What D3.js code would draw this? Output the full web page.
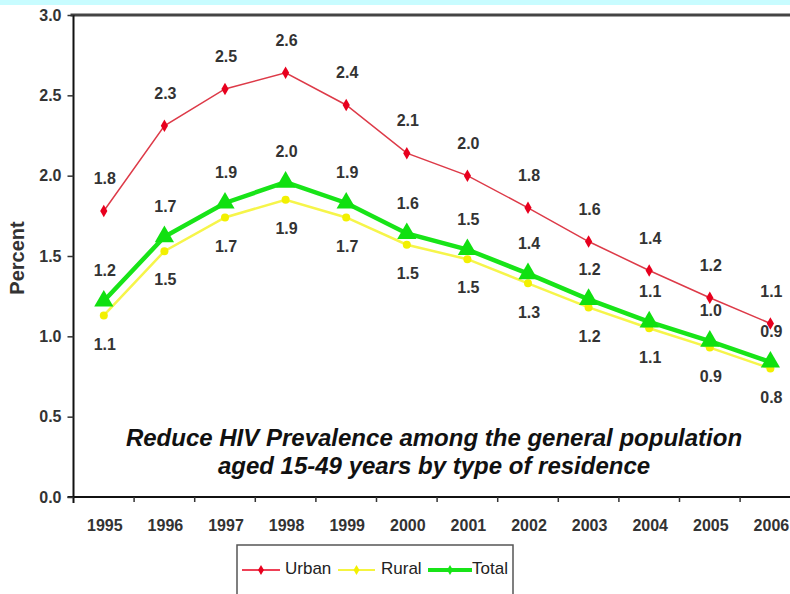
<!DOCTYPE html>
<html><head><meta charset="utf-8">
<script src="https://cdn.jsdelivr.net/npm/d3@7"></script>
<style>body{margin:0;background:#fff;} svg{display:block}</style>
</head><body>
<svg id="c" width="790" height="594"></svg>
<script>
const years = ["1995","1996","1997","1998","1999","2000","2001","2002","2003","2004","2005","2006"];
const urban = [1.78,2.31,2.54,2.64,2.44,2.14,2.0,1.8,1.59,1.41,1.24,1.08];
const rural = [1.13,1.53,1.74,1.85,1.74,1.57,1.48,1.33,1.18,1.05,0.93,0.80];
const total = [1.22,1.62,1.83,1.96,1.83,1.64,1.54,1.39,1.23,1.09,0.97,0.84];
const urbanLabels = ["1.8","2.3","2.5","2.6","2.4","2.1","2.0","1.8","1.6","1.4","1.2","1.1"];
const totalLabels = ["1.2","1.7","1.9","2.0","1.9","1.6","1.5","1.4","1.2","1.1","1.0","0.9"];
const ruralLabels = ["1.1","1.5","1.7","1.9","1.7","1.5","1.5","1.3","1.2","1.1","0.9","0.8"];
const yTicks = [0,0.5,1.0,1.5,2.0,2.5,3.0];
const seriesNames = ["Urban","Rural","Total"];
const titleLines = ["Reduce HIV Prevalence among the general population","aged 15-49 years by type of residence"];

const svg = d3.select("#c");
const W = 790, H = 594;
const pLeft = 73.5, pTop = 15, pBottom = 497;
const x = d3.scaleBand().domain(years).range([pLeft, pLeft + 12*60.6]).padding(0);
const y = d3.scaleLinear().domain([0,3]).range([pBottom, pTop]);
const cx = d => x(d) + x.bandwidth()/2;
const sans = '"Liberation Sans",Arial,sans-serif';

svg.append("rect").attr("x",0).attr("y",0).attr("width",W).attr("height",H).attr("fill","#fff");
svg.append("rect").attr("x",0).attr("y",0).attr("width",W).attr("height",5).attr("fill","#c8fcff");

// frame
svg.append("line").attr("x1",pLeft-3).attr("x2",W).attr("y1",pTop).attr("y2",pTop)
  .attr("stroke","#444").attr("stroke-width",3);
svg.append("line").attr("x1",pLeft).attr("x2",pLeft).attr("y1",pTop).attr("y2",pBottom+6)
  .attr("stroke","#111").attr("stroke-width",2);
svg.append("line").attr("x1",pLeft-6).attr("x2",W).attr("y1",pBottom).attr("y2",pBottom)
  .attr("stroke","#111").attr("stroke-width",2);

// y axis
const yAxis = d3.axisLeft(y).tickValues(yTicks).tickFormat(d3.format(".1f")).tickSize(6).tickPadding(6);
const ga = svg.append("g").attr("transform",`translate(${pLeft},0)`).call(yAxis);
ga.select(".domain").remove();
ga.selectAll(".tick line").attr("stroke","#333").attr("stroke-width",1.5);
ga.selectAll(".tick text").attr("font-family",sans).attr("font-size",16).attr("font-weight","bold").attr("fill","#333");

// x axis
const xAxis = d3.axisBottom(x).tickSize(0).tickPadding(23);
const gx = svg.append("g").attr("transform",`translate(1,${pBottom})`).call(xAxis);
gx.select(".domain").remove();
gx.selectAll(".tick text").attr("font-family",sans).attr("font-size",16).attr("font-weight","bold").attr("fill","#333");
svg.append("g").selectAll("line").data(years.slice(1)).join("line")
  .attr("x1",d=>x(d)).attr("x2",d=>x(d)).attr("y1",pBottom).attr("y2",pBottom+5)
  .attr("stroke","#333").attr("stroke-width",1.5);

// y title
svg.append("text").attr("transform","translate(24,258) rotate(-90)")
  .attr("text-anchor","middle").attr("font-family",sans)
  .attr("font-weight","bold").attr("font-size",20).attr("fill","#333").text("Percent");

// chart title
svg.append("g").selectAll("text").data(titleLines).join("text")
  .attr("x",434).attr("y",(d,i)=>446 + i*28).attr("text-anchor","middle")
  .attr("font-family",sans).attr("font-weight","bold").attr("font-style","italic")
  .attr("font-size",24).attr("fill","#111").text(d=>d);

const line = d3.line().x((d,i)=>cx(years[i])).y(d=>y(d));

// rural
svg.append("path").datum(rural).attr("d",line).attr("fill","none").attr("stroke","#f6f54a").attr("stroke-width",2.5);
svg.append("g").selectAll("circle").data(rural).join("circle")
  .attr("cx",(d,i)=>cx(years[i])).attr("cy",d=>y(d)).attr("r",4).attr("fill","#f2f000");
// total
svg.append("path").datum(total).attr("d",line).attr("fill","none").attr("stroke","#18e418").attr("stroke-width",4.5);
svg.append("g").selectAll("path").data(total).join("path")
  .attr("d",d3.symbol(d3.symbolTriangle,160))
  .attr("transform",(d,i)=>`translate(${cx(years[i])},${y(d)})`).attr("fill","#10e010");
// urban
svg.append("path").datum(urban).attr("d",line).attr("fill","none").attr("stroke","#dd3a48").attr("stroke-width",1.5);
svg.append("g").selectAll("path").data(urban).join("path")
  .attr("d",d3.symbol(d3.symbolDiamond,45))
  .attr("transform",(d,i)=>`translate(${cx(years[i])},${y(d)})`).attr("fill","#e8001e");

// value labels
function labels(vals, texts, dy){
  svg.append("g").selectAll("text").data(vals).join("text")
    .attr("x",(d,i)=>cx(years[i])+1).attr("y",d=>y(d)+dy)
    .attr("text-anchor","middle").attr("dominant-baseline","middle")
    .attr("font-family",sans).attr("font-weight","bold").attr("font-size",16).attr("fill","#333")
    .text((d,i)=>texts[i]);
}
labels(urban, urbanLabels, -31);
labels(total, totalLabels, -29);
labels(rural, ruralLabels, 30);

// legend
const lg = svg.append("g");
lg.append("rect").attr("x",237).attr("y",545).attr("width",276).attr("height",80)
  .attr("fill","#fff").attr("stroke","#555").attr("stroke-width",1.5);
const legendItems = [
  {name:seriesNames[0], x1:242, x2:280, tx:285, color:"#e8001e", w:1.5, sym:d3.symbolDiamond, s:30},
  {name:seriesNames[1], x1:338, x2:375, tx:381, color:"#f2f000", w:1.5, sym:d3.symbolDiamond, s:30},
  {name:seriesNames[2], x1:428, x2:472, tx:472, color:"#18e418", w:4, sym:d3.symbolDiamond, s:30}
];
const ly = 570;
legendItems.forEach(it=>{
  lg.append("line").attr("x1",it.x1).attr("x2",it.x2).attr("y1",ly).attr("y2",ly)
    .attr("stroke",it.color).attr("stroke-width",it.w);
  lg.append("path").attr("d",d3.symbol(it.sym,it.s)).attr("transform",`translate(${(it.x1+it.x2)/2},${ly})`).attr("fill",it.color);
  lg.append("text").attr("x",it.tx).attr("y",ly).attr("dominant-baseline","middle")
    .attr("font-family",sans).attr("font-size",17).attr("fill","#222").text(it.name);
});
</script>
</body></html>
